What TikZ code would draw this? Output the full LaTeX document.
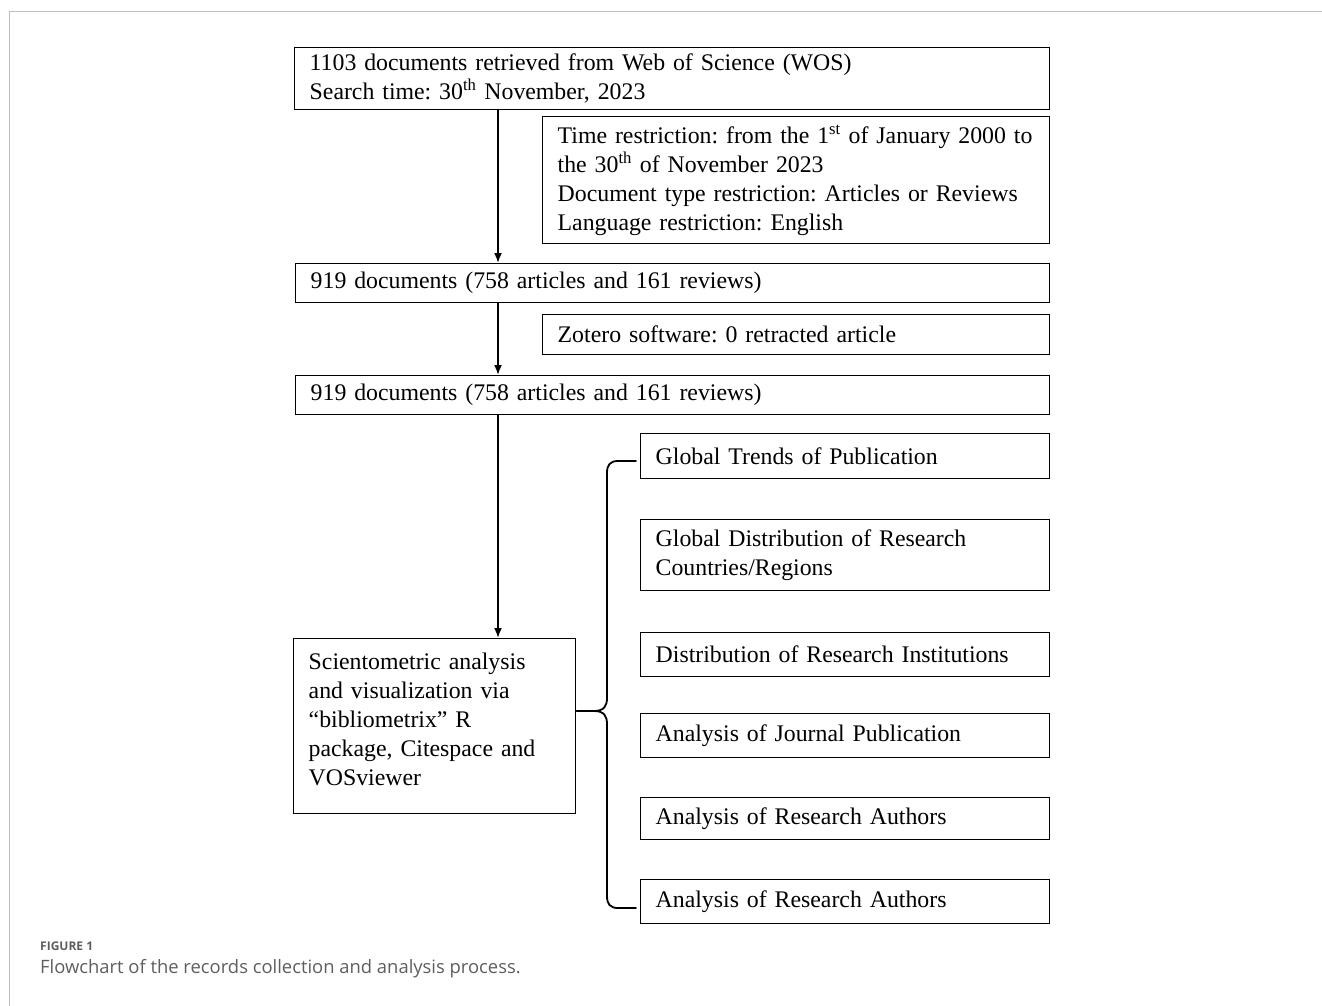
\documentclass[tikz,border=0pt]{standalone}
\usepackage{fontspec}
\setmainfont{Liberation Serif}
\newfontfamily\capfont{Open Sans}
\usepackage{xcolor}
\usetikzlibrary{arrows.meta}

\definecolor{framegray}{HTML}{BDBDBD}
\definecolor{capgray}{HTML}{5E5E5E}

\tikzset{
  box/.style={draw, line width=1.4pt, anchor=north west, inner xsep=15pt, inner ysep=0pt,
    align=left, font=\fontsize{23.8}{29}\selectfont\frenchspacing},
  flow/.style={-{Latex[length=10pt,width=8pt]}, line width=1.8pt},
  brace/.style={line width=1.8pt, line cap=round}
}

\begin{document}
\begin{tikzpicture}[x=1pt, y=-1pt]
\useasboundingbox (0,0) rectangle (1322,1006);

% page frame
\draw[line width=1pt, framegray] (9,1006) -- (9,12) -- (1322,12);

% main column
\node[box, text width=725pt, minimum height=62pt] (wos) at (294,47)
  {1103 documents retrieved from Web of Science (WOS)\\
   Search time: 30\textsuperscript{th} November, 2023};
\node[box, text width=477pt, minimum height=127pt] (restrict) at (542,116)
  {Time restriction: from the 1\textsuperscript{st} of January 2000 to\\
   the 30\textsuperscript{th} of November 2023\\
   Document type restriction: Articles or Reviews\\
   Language restriction: English};
\node[box, text width=724pt, minimum height=39pt] (docsA) at (295,263)
  {919 documents (758 articles and 161 reviews)};
\node[box, text width=477pt, minimum height=40pt] (zotero) at (542,314)
  {Zotero software: 0 retracted article};
\node[box, text width=724pt, minimum height=39pt] (docsB) at (295,375)
  {919 documents (758 articles and 161 reviews)};
\node[box, text width=252pt, minimum height=175pt, text depth=130pt] (tools) at (293,638)
  {Scientometric analysis\\
   and visualization via\\
   “bibliometrix” R\\
   package, Citespace and\\
   VOSviewer};

% analysis boxes
\node[box, text width=379pt, minimum height=45pt] (trend) at (640,433)
  {Global Trends of Publication};
\node[box, text width=379pt, minimum height=71pt] (country) at (640,519)
  {Global Distribution of Research\\Countries/Regions};
\node[box, text width=379pt, minimum height=44pt] (inst) at (640,632)
  {Distribution of Research Institutions};
\node[box, text width=379pt, minimum height=44pt] (journal) at (640,713)
  {Analysis of Journal Publication};
\node[box, text width=379pt, minimum height=42pt] (authA) at (640,797)
  {Analysis of Research Authors};
\node[box, text width=379pt, minimum height=44pt] (authB) at (640,879)
  {Analysis of Research Authors};

% arrows
\coordinate (spine) at (498,0);
\draw[flow] (spine |- wos.south) -- (spine |- docsA.north);
\draw[flow] (spine |- docsA.south) -- (spine |- docsB.north);
\draw[flow] (spine |- docsB.south) -- (spine |- tools.north);

% brace
\coordinate (btip) at (594,711);
\coordinate (btop) at (636,461);
\coordinate (bbot) at (636,908);
\draw[brace] (tools.east |- btip) -- (btip)
  .. controls (604,711) and (607,706) .. (607,698) -- (607,473)
  .. controls (607,465) and (610,461) .. (618,461) -- (btop);
\draw[brace] (btip)
  .. controls (604,711) and (607,716) .. (607,724) -- (607,896)
  .. controls (607,904) and (610,908) .. (618,908) -- (bbot);

% caption
\node[anchor=base west, inner sep=0pt, text=capgray, font=\capfont\bfseries\fontsize{12}{14}\selectfont]
  (figlabel) at (40,950) {FIGURE 1};
\node[anchor=base west, inner sep=0pt, text=capgray, font=\capfont\fontsize{18.4}{22}\selectfont]
  (figcap) at (40,973) {Flowchart of the records collection and analysis process.};
\end{tikzpicture}
\end{document}
